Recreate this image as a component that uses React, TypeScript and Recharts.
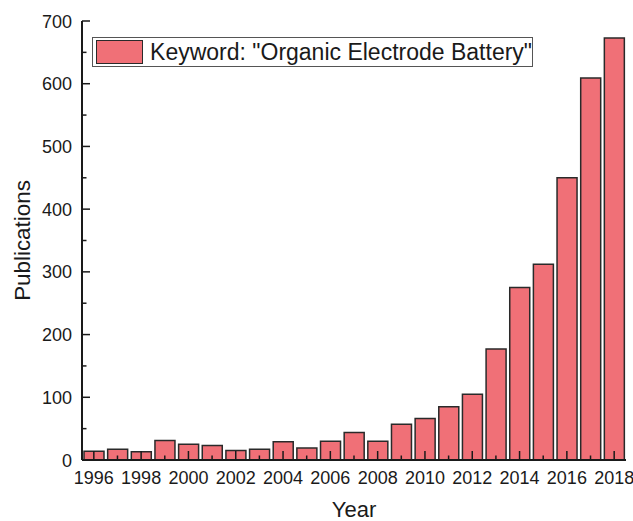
import React from "react";
import { BarChart, Bar, XAxis, YAxis } from "recharts";

const years = [
  "1996", "1997", "1998", "1999", "2000", "2001", "2002", "2003", "2004", "2005", "2006", "2007",
  "2008", "2009", "2010", "2011", "2012", "2013", "2014", "2015", "2016", "2017", "2018",
];
const publications = [14, 17, 13, 31, 25, 23, 15, 17, 29, 19, 30, 44, 30, 57, 66, 85, 105, 177, 275, 312, 450, 609, 673];
const yTicks = [0, 50, 100, 150, 200, 250, 300, 350, 400, 450, 500, 550, 600, 650, 700];
const legendLabel = 'Keyword: "Organic Electrode Battery"';

const data = years.map((year, i) => ({ year, count: publications[i] }));

const FONT = "'Liberation Sans', Arial, sans-serif";
const INK = "#1a1a1a";
const BAR_FILL = "#F07077";

const XTick = (props: any) => {
  const { x, y, payload } = props;
  const major = Number(payload.value) % 2 === 0;
  return (
    <g>
      <line x1={x} x2={x} y1={y} y2={y - (major ? 9 : 4.5)} stroke={INK} strokeWidth={1.5} />
      {major && (
        <text x={x} y={y + 24} textAnchor="middle" fontSize={18} fontFamily={FONT} fill={INK}>
          {payload.value}
        </text>
      )}
    </g>
  );
};

const YTick = (props: any) => {
  const { x, y, payload } = props;
  const major = payload.value % 100 === 0;
  return (
    <g>
      <line x1={x} x2={x + (major ? 8 : 4.5)} y1={y} y2={y} stroke={INK} strokeWidth={1.5} />
      {major && (
        <text x={x - 10} y={y + 6.5} textAnchor="end" fontSize={18} fontFamily={FONT} fill={INK}>
          {payload.value}
        </text>
      )}
    </g>
  );
};

export default function App() {
  return (
    <div style={{ position: "relative", width: 633, height: 521, fontFamily: FONT }}>
      <style>{"html,body{margin:0;padding:0;overflow:hidden;}"}</style>
      <BarChart
        width={633}
        height={521}
        data={data}
        margin={{ top: 21, right: 7, bottom: 0, left: 0 }}
        style={{ overflow: "visible" }}
      >
        <Bar
          dataKey="count"
          fill={BAR_FILL}
          stroke="#2a2a2a"
          strokeWidth={1.5}
          barSize={20}
          isAnimationActive={false}
        />
        <XAxis
          dataKey="year"
          height={61}
          interval={0}
          tickSize={0}
          tickMargin={0}
          tickLine={false}
          tick={<XTick />}
          axisLine={{ stroke: INK, strokeWidth: 2 }}
          label={(props: any) => {
            const vb = props.viewBox;
            return (
              <text
                x={vb.x + vb.width / 2}
                y={517}
                textAnchor="middle"
                fontSize={22}
                fontFamily={FONT}
                fill={INK}
              >
                Year
              </text>
            );
          }}
        />
        <YAxis
          type="number"
          domain={[0, 700]}
          ticks={yTicks}
          interval={0}
          width={82}
          tickSize={0}
          tickMargin={0}
          tickLine={false}
          tick={<YTick />}
          axisLine={{ stroke: INK, strokeWidth: 2 }}
          label={(props: any) => {
            const vb = props.viewBox;
            const cx = 29.5;
            const cy = vb.y + vb.height / 2;
            return (
              <text
                x={cx}
                y={cy}
                transform={`rotate(-90 ${cx} ${cy})`}
                textAnchor="middle"
                fontSize={22.4}
                fontFamily={FONT}
                fill={INK}
              >
                Publications
              </text>
            );
          }}
        />
        <XAxis
          xAxisId="top"
          orientation="top"
          dataKey="year"
          height={0}
          tick={false}
          tickLine={false}
          axisLine={{ stroke: INK, strokeWidth: 1.6 }}
        />
        <YAxis
          yAxisId="right"
          orientation="right"
          domain={[0, 700]}
          width={0}
          tick={false}
          tickLine={false}
          axisLine={{ stroke: INK, strokeWidth: 1.6 }}
        />
      </BarChart>
      <div
        style={{
          position: "absolute",
          left: 92,
          top: 37,
          width: 441,
          height: 30,
          boxSizing: "border-box",
          border: "1px solid #555",
          background: "#fff",
          display: "flex",
          alignItems: "center",
        }}
      >
        <div
          style={{
            marginLeft: 3,
            width: 50,
            height: 24,
            boxSizing: "border-box",
            background: BAR_FILL,
            border: "1.5px solid #2a2a2a",
          }}
        />
        <span style={{ marginLeft: 7, fontSize: 23, color: INK, whiteSpace: "nowrap" }}>{legendLabel}</span>
      </div>
    </div>
  );
}
